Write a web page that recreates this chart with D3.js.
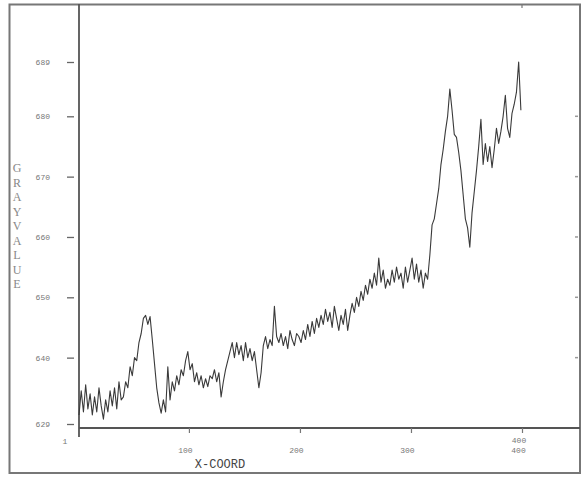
<!DOCTYPE html>
<html>
<head>
<meta charset="utf-8">
<script src="https://cdn.jsdelivr.net/npm/d3@7"></script>
<style>
  body { margin: 0; background: #fff; }
  text { font-family: "Liberation Mono", "DejaVu Sans Mono", monospace; }
</style>
</head>
<body>
<svg class="plot" width="584" height="478"></svg>
<script>
// gray value profile, sampled every 2nd x-coord (1, 3, 5, ... 399)
var xStart = 1, xStep = 2;
var grayValues = [
  630.5, 634.5, 631, 635.5, 631.5, 634, 630.5, 633.5, 631, 635,
  632, 629.8, 633, 631, 634.5, 632, 635, 631.5, 636, 633,
  633.5, 636, 635, 638.5, 637, 640, 639.5, 642.5, 644, 646.5,
  647, 645.5, 646.8, 643, 639, 635, 632.5, 630.8, 633, 631,
  638.5, 633, 636, 634.5, 637, 635.5, 638, 637, 639.5, 641,
  638, 639, 636, 637.5, 635.5, 637, 635, 636.5, 635.2, 637,
  636.5, 638, 636, 637.5, 633.5, 636, 638, 639.5, 641, 642.5,
  640, 642.5, 640.5, 642, 639.5, 642.5, 640, 641.5, 639.5, 641,
  638, 635, 637.5, 642, 643.5, 641.5, 643, 642, 648.5, 643.5,
  642.5, 644, 642, 643.5, 641.5, 644.5, 643, 642, 644, 643.5,
  642.5, 644.5, 643, 645.5, 643.5, 646, 644, 646.5, 645, 647,
  645.5, 648, 646, 647.5, 645, 648.5, 646.5, 644.5, 647, 645.5,
  648, 644.5, 647, 649, 647.5, 650, 648.5, 651, 649.5, 652,
  650.5, 653, 651.5, 654, 652, 656.5, 652.5, 654.5, 651.5, 653,
  652, 654.5, 652.5, 655, 653, 654, 651.5, 655, 652.5, 654.5,
  656.5, 653, 655.5, 652.5, 654.5, 651.5, 654, 653, 657, 662,
  663, 665.5, 668, 672, 674.5, 677.5, 680, 684.5, 681, 677,
  676.5, 674, 671, 667, 663, 661.5, 658.3, 664, 667.5, 671,
  675, 679.5, 672, 675.5, 672.5, 675, 671.5, 674.5, 678, 675.5,
  677.5, 680, 683.5, 678, 676.5, 680.5, 682, 684, 689, 681
];
var xTicks = [100, 200, 300, 400];
var yTicks = [629, 640, 650, 660, 670, 680, 689];
var rightTicks = [640, 650, 660, 670, 680];
var yTitle = "GRAYVALUE";
var xTitle = "X-COORD";

var data = grayValues.map(function(v, i) { return {x: xStart + i * xStep, v: v}; });

var svg = d3.select(".plot");

var x = d3.scaleLinear().domain([1, 400]).range([79, 522]);
var y = d3.scaleLinear().domain([629, 689]).range([424, 62]);

// outer frame
svg.append("rect")
    .attr("x", 9.5).attr("y", 4.5)
    .attr("width", 570.5).attr("height", 468.5)
    .attr("fill", "none")
    .attr("stroke", "#777")
    .attr("stroke-width", 2);

// axis lines
svg.append("line")
    .attr("x1", 79).attr("x2", 79).attr("y1", 4).attr("y2", 437)
    .attr("stroke", "#555").attr("stroke-width", 1.8);
svg.append("line")
    .attr("x1", 79).attr("x2", 580).attr("y1", 428).attr("y2", 428)
    .attr("stroke", "#555").attr("stroke-width", 1.8);

// y ticks (left)
var yAxis = svg.append("g")
    .attr("transform", "translate(74,0)")
    .call(d3.axisLeft(y).tickValues(yTicks).tickSize(7).tickPadding(17).tickFormat(d3.format("d")));
yAxis.select(".domain").remove();
yAxis.selectAll("line").attr("stroke", "#666").attr("stroke-width", 1.3);
yAxis.selectAll("text")
    .attr("fill", "#777")
    .style("font-size", "8px")
    .style("font-family", "Liberation Mono, monospace");

// small ticks on the right frame
svg.append("g").selectAll("line")
  .data(rightTicks).enter().append("line")
    .attr("x1", 575).attr("x2", 578)
    .attr("y1", function(d) { return y(d); })
    .attr("y2", function(d) { return y(d); })
    .attr("stroke", "#999").attr("stroke-width", 1.5);

// x ticks
var xAxis = svg.append("g")
    .attr("transform", "translate(0,428)")
    .call(d3.axisBottom(x).tickValues(xTicks).tickSize(5).tickPadding(14).tickFormat(d3.format("d")));
xAxis.select(".domain").remove();
xAxis.selectAll("line").attr("stroke", "#777").attr("stroke-width", 1.2);
xAxis.selectAll("text")
    .attr("fill", "#777")
    .attr("dx", -4)
    .style("font-size", "8px")
    .style("font-family", "Liberation Mono, monospace");
// the 400 label is printed twice in the original, one line higher
svg.append("text")
    .attr("x", x(400) - 3).attr("y", 443)
    .attr("text-anchor", "middle")
    .attr("fill", "#777")
    .style("font-size", "8px")
    .text(d3.format("d")(xTicks[3]));
// tick on the top frame
svg.append("line")
    .attr("x1", x(400)).attr("x2", x(400)).attr("y1", 4).attr("y2", 8)
    .attr("stroke", "#777").attr("stroke-width", 1.2);

svg.append("text")
    .attr("x", 65).attr("y", 444)
    .attr("text-anchor", "middle")
    .attr("fill", "#777")
    .style("font-size", "8px")
    .text("1");

// axis titles
svg.append("text")
    .attr("x", 220).attr("y", 468)
    .attr("text-anchor", "middle")
    .attr("fill", "#444")
    .style("font-size", "12px")
    .text(xTitle);

svg.append("g").selectAll("text")
  .data(yTitle.split("")).enter().append("text")
    .attr("x", 17)
    .attr("y", function(d, i) { return 172 + i * 14.5; })
    .attr("text-anchor", "middle")
    .attr("fill", "#888")
    .style("font-size", "12px")
    .style("font-family", "Liberation Serif, serif")
    .text(function(d) { return d; });

// profile line
var line = d3.line()
    .x(function(d) { return x(d.x); })
    .y(function(d) { return y(d.v); });

svg.append("path")
    .datum(data)
    .attr("fill", "none")
    .attr("stroke", "#3a3a3a")
    .attr("stroke-width", 1.1)
    .attr("stroke-linejoin", "round")
    .attr("d", line);
</script>
</body>
</html>
